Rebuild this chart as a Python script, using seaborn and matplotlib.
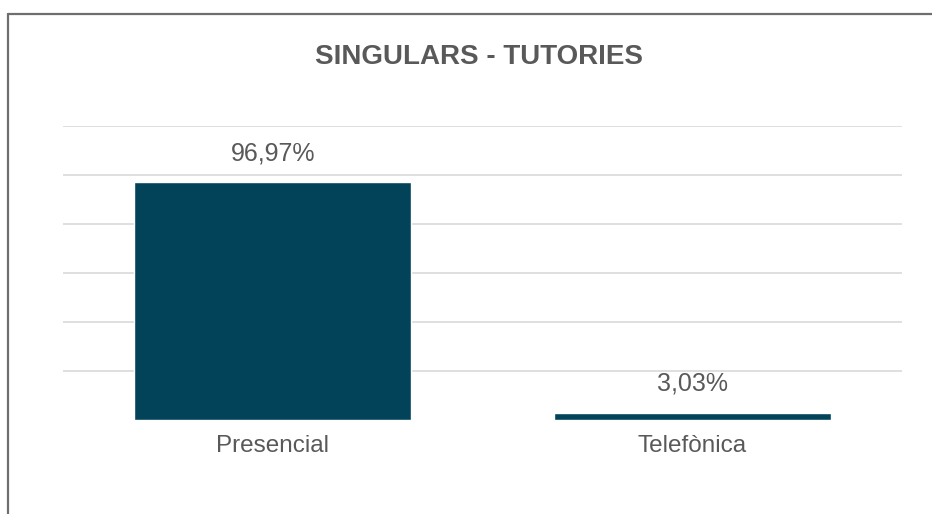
import matplotlib
matplotlib.use("Agg")
import matplotlib.pyplot as plt
from matplotlib.lines import Line2D
import seaborn as sns
import pandas as pd

# dades del gràfic
categories = ["Presencial", "Telefònica"]
percentages = [96.97, 3.03]
title = "SINGULARS - TUTORIES"

bar_color = "#02435A"
text_color = "#595959"
grid_color = "#D9D9D9"

sns.set_theme(style="white")
plt.rcParams["font.family"] = ["Liberation Sans", "DejaVu Sans"]

df = pd.DataFrame({"categoria": categories, "percentatge": percentages})

fig = plt.figure(figsize=(9.32, 5.14), dpi=100)
ax = fig.add_axes([63 / 932, 94 / 514, (902 - 63) / 932, (420 - 126) / 514])

sns.barplot(data=df, x="categoria", y="percentatge", color=bar_color,
            width=0.66, saturation=1, ax=ax)

ax.set_ylim(0, 120)
# sense línia a la base, només de 20 a 120
ax.set_yticks(range(20, 121, 20))
ax.yaxis.grid(True, color=grid_color, linewidth=1.2)
ax.set_axisbelow(True)
ax.tick_params(axis="y", left=False, labelleft=False)
ax.tick_params(axis="x", length=0, pad=11, labelsize=17.5, labelcolor=text_color)
ax.set_xlabel("")
ax.set_ylabel("")
for side in ["top", "right", "left", "bottom"]:
    ax.spines[side].set_visible(False)

# etiquetes de dades amb coma decimal
labels = [f"{v:.2f}%".replace(".", ",") for v in percentages]
ax.bar_label(ax.containers[0], labels=labels, padding=12, fontsize=18,
             color=text_color)

fig.text(479 / 932, 1 - 57 / 514, title, ha="center", va="center",
         fontsize=20, fontweight="bold", color=text_color)

# vora del gràfic (només superior i esquerra visibles)
fig.add_artist(Line2D([8 / 932, 8 / 932], [0, 1 - 14 / 514],
                      color="#6E6E6E", linewidth=1.6))
fig.add_artist(Line2D([8 / 932, 1], [1 - 14 / 514, 1 - 14 / 514],
                      color="#6E6E6E", linewidth=1.6))

fig.savefig("out.png", dpi=100, facecolor="white")
